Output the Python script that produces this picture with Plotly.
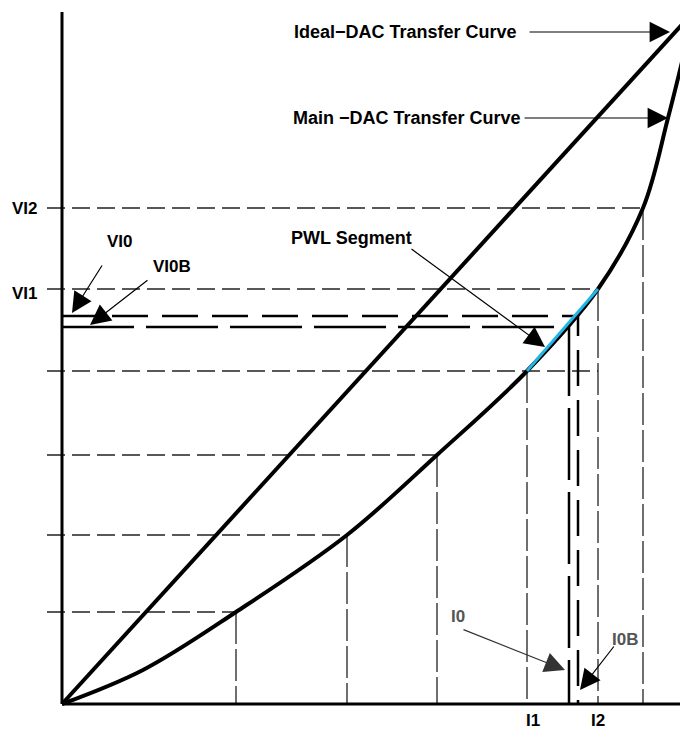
import plotly.graph_objects as go

# ---- data (units: code-scale relative to axes origin) ----
axis_x_max = 626
axis_y_max = 692

ideal_x = [0, 626]
ideal_y = [0, 686]

main_x = [0, 81, 174, 285, 375, 465, 536, 581, 606, 626]
main_y = [0, 34, 92, 169, 249, 333, 415, 496, 586, 667]

# horizontal guide levels and where they end
grid_h_y = [92, 169, 249, 333, 415, 496]
grid_h_xend = [174, 285, 375, 536, 536, 581]
# vertical guides: x position and top
grid_v_x = [174, 285, 375, 465, 536, 581]
grid_v_top = [92, 169, 249, 333, 415, 496]
grid_left = -15

pwl_x = [465, 536]
pwl_y = [333, 415]

vi0_level, i0_pos = 388, 516
vi0b_level, i0b_pos = 377, 507

fig = go.Figure()

def line(x, y, color="black", width=1, dash="solid", shape="linear"):
    fig.add_trace(go.Scatter(x=x, y=y, mode="lines", hoverinfo="skip",
                             line=dict(color=color, width=width, dash=dash, shape=shape)))

# guide dashed lines
for yv, xe in zip(grid_h_y, grid_h_xend):
    line([grid_left, xe], [yv, yv], color="#222222", width=1.3, dash="18px,7px")
for xv, yt in zip(grid_v_x, grid_v_top):
    line([xv, xv], [yt, 0], color="#222222", width=1.3, dash="32px,5px")

# VI0 / VI0B lines
line([0, i0_pos, i0_pos], [vi0_level, vi0_level, 0], width=2.5, dash="36px,14px")
line([0, i0b_pos, i0b_pos], [vi0b_level, vi0b_level, 0], width=2.5, dash="72px,12px")

# axes
line([0, 0], [axis_y_max, 0], width=3)
line([0, axis_x_max], [0, 0], width=3)

# curves
line(ideal_x, ideal_y, width=4)
line(main_x, main_y, width=4, shape="spline")
line(pwl_x, pwl_y, color="#22b5e8", width=3)

F = "Liberation Sans, Arial, sans-serif"

def text(x, y, s, size=18, color="black", xanchor="center"):
    fig.add_annotation(x=x, y=y, xref="x", yref="y", text="<b>%s</b>" % s, showarrow=False,
                       xanchor=xanchor, yanchor="middle", font=dict(family=F, size=size, color=color))

def arrow(x0, y0, x1, y1, color="black"):
    fig.add_annotation(x=x1, y=y1, ax=x0, ay=y0, xref="x", yref="y", axref="x", ayref="y",
                       text="", showarrow=True, arrowhead=2, arrowsize=3.4, arrowwidth=1.2,
                       arrowcolor=color, standoff=0, startstandoff=0)

text(457, 672, "Ideal\u2212DAC Transfer Curve", xanchor="right")
arrow(466, 672, 608, 672)
text(461, 586, "Main \u2212DAC Transfer Curve", xanchor="right")
arrow(461, 586, 606, 586)

text(289, 466, "PWL Segment")
arrow(348, 456, 483, 357)

text(-37, 496, "VI2", size=17)
text(-37, 411, "VI1", size=17)
text(58, 463, "VI0", size=17)
arrow(41, 440, 10, 391)
text(110, 438, "VI0B", size=17)
arrow(87, 425, 28, 379)

text(471, -16, "I1", size=17)
text(536, -16, "I2", size=17)
text(396, 88, "I0", size=17, color="#555555")
arrow(400, 75, 503, 34, color="#333333")
text(563, 65, "I0B", size=17, color="#555555")
arrow(553, 59, 518, 14)

# page body adds an 8px offset; figure sized so data units map to page pixels
fig.update_layout(
    width=680, height=722,
    margin=dict(l=0, r=0, t=0, b=0),
    plot_bgcolor="white", paper_bgcolor="white",
    showlegend=False,
    xaxis=dict(range=[-54, 626], visible=False, fixedrange=True),
    yaxis=dict(range=[-26, 696], visible=False, fixedrange=True),
)

fig.write_html("out.html")
